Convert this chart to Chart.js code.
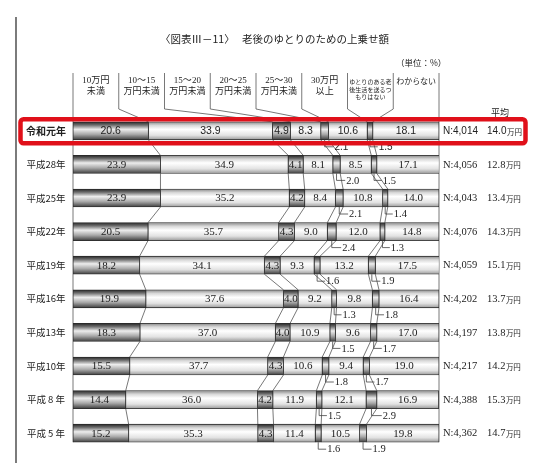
<!DOCTYPE html>
<html>
<head>
<meta charset="utf-8">
<script src="https://cdn.jsdelivr.net/npm/chart.js@4"></script>
<style>
  html, body { margin: 0; padding: 0; background: #fff; }
  #wrap { width: 550px; height: 469px; position: relative; }
</style>
</head>
<body>
<div id="wrap"><canvas id="myChart"></canvas></div>
<script>
//--------------------------------------------------
// data (unit: %)
const years = ["令和元年", "平成28年", "平成25年", "平成22年", "平成19年", "平成16年", "平成13年", "平成10年", "平成 8 年", "平成 5 年"];
const categories = [
  ["10万円", "未満"],
  ["10～15", "万円未満"],
  ["15～20", "万円未満"],
  ["20～25", "万円未満"],
  ["25～30", "万円未満"],
  ["30万円", "以上"],
  ["ゆとりのある老", "後生活を送るつ", "もりはない"],
  ["わからない"],
];
const under10 = [20.6, 23.9, 23.9, 20.5, 18.2, 19.9, 18.3, 15.5, 14.4, 15.2];
const from10to15 = [33.9, 34.9, 35.2, 35.7, 34.1, 37.6, 37.0, 37.7, 36.0, 35.3];
const from15to20 = [4.9, 4.1, 4.2, 4.3, 4.3, 4.0, 4.0, 4.3, 4.2, 4.3];
const from20to25 = [8.3, 8.1, 8.4, 9.0, 9.3, 9.2, 10.9, 10.6, 11.9, 11.4];
const from25to30 = [2.1, 2.0, 2.1, 2.4, 1.6, 1.3, 1.5, 1.8, 1.5, 1.6];
const over30 = [10.6, 8.5, 10.8, 12.0, 13.2, 9.8, 9.6, 9.4, 12.1, 10.5];
const noIntention = [1.5, 1.5, 1.4, 1.3, 1.9, 1.8, 1.7, 1.7, 2.9, 1.9];
const unknown = [18.1, 17.1, 14.0, 14.8, 17.5, 16.4, 17.0, 19.0, 16.9, 19.8];
const sampleN = ["4,014", "4,056", "4,043", "4,076", "4,059", "4,202", "4,197", "4,217", "4,388", "4,362"];
const averages = ["14.0", "12.8", "13.4", "14.3", "15.1", "13.7", "13.8", "14.2", "15.3", "14.7"];

const series = [under10, from10to15, from15to20, from20to25, from25to30, over30, noIntention, unknown];
const outsideLabels = [4, 6]; // thin segments labelled under the bar

const SERIF = '"Liberation Serif", "DejaVu Serif", "Noto Sans CJK JP", serif';
const SANS = '"Liberation Sans", "Noto Sans CJK JP", sans-serif';
const JP = '"Noto Sans CJK JP", sans-serif';
const BAR_H = 18;

function shade(c, dark) {
  const chart = c.chart;
  const yc = chart.scales.y ? chart.scales.y.getPixelForValue(c.dataIndex) : NaN;
  if (!isFinite(yc)) return dark ? "#888" : "#ddd";
  const g = chart.ctx.createLinearGradient(0, yc - BAR_H / 2, 0, yc + BAR_H / 2);
  if (dark) {
    g.addColorStop(0, "#262626");
    g.addColorStop(0.18, "#6e6e6e");
    g.addColorStop(0.42, "#ededed");
    g.addColorStop(0.7, "#a8a8a8");
    g.addColorStop(1, "#3e3e3e");
  } else {
    g.addColorStop(0, "#8a8a8a");
    g.addColorStop(0.2, "#d8d8d8");
    g.addColorStop(0.42, "#ffffff");
    g.addColorStop(0.75, "#e2e2e2");
    g.addColorStop(1, "#9a9a9a");
  }
  return g;
}

function line(ctx, pts) {
  ctx.beginPath();
  ctx.moveTo(pts[0][0], pts[0][1]);
  for (let i = 1; i < pts.length; i++) ctx.lineTo(pts[i][0], pts[i][1]);
  ctx.stroke();
}

const deco = {
  id: "deco",
  beforeDatasetsDraw(chart) {
    const ctx = chart.ctx;
    const a = chart.chartArea;
    const metas = series.map((s, k) => chart.getDatasetMeta(k).data);
    const first = metas[0][0];
    const last = metas[0][years.length - 1];
    const barTop0 = first.y - BAR_H / 2;
    const bottom = last.y + BAR_H / 2;
    ctx.save();
    // outer left rule
    ctx.strokeStyle = "#444";
    ctx.lineWidth = 1.4;
    line(ctx, [[16, 17], [16, 463]]);
    // header columns
    ctx.strokeStyle = "#555";
    ctx.lineWidth = 0.8;
    const colW = (a.right - a.left) / categories.length;
    const hTop = 73, hBot = 109;
    line(ctx, [[a.left, hTop], [a.left, bottom]]);
    line(ctx, [[a.right, hTop], [a.right, bottom]]);
    for (let j = 1; j < categories.length; j++) {
      const x = a.left + j * colW;
      line(ctx, [[x, hTop], [x, hBot], [metas[j - 1][0].x, barTop0]]);
    }
    // connectors between consecutive bars
    for (let k = 0; k < series.length - 1; k++) {
      for (let i = 0; i < years.length - 1; i++) {
        const p = metas[k][i], q = metas[k][i + 1];
        line(ctx, [[p.x, p.y + BAR_H / 2], [q.x, q.y - BAR_H / 2]]);
      }
    }
    ctx.restore();
  },
  afterDatasetsDraw(chart) {
    const ctx = chart.ctx;
    const a = chart.chartArea;
    const metas = series.map((s, k) => chart.getDatasetMeta(k).data);
    ctx.save();
    ctx.fillStyle = "#222";
    ctx.textBaseline = "middle";

    // title
    ctx.textAlign = "left";
    ctx.font = "10.5px " + JP;
    ctx.fillText("〈図表Ⅲ－11〉", 160, 39);
    ctx.fillText("老後のゆとりのための上乗せ額", 242, 39);
    ctx.font = "8.5px " + JP;
    ctx.fillText("（単位：%）", 396, 63);

    // header labels
    const colW = (a.right - a.left) / categories.length;
    ctx.textAlign = "center";
    categories.forEach((lab, j) => {
      const cx = a.left + (j + 0.5) * colW;
      if (lab.length === 3) {
        ctx.font = "6px " + JP;
        lab.forEach((t, r) => ctx.fillText(t, cx, 82 + r * 7.5));
      } else if (lab.length === 1) {
        ctx.font = "8px " + JP;
        ctx.fillText(lab[0], cx, 81);
      } else {
        ctx.font = "9px " + SERIF;
        lab.forEach((t, r) => ctx.fillText(t, cx, 81 + r * 10.5));
      }
    });

    // values inside / under bars
    years.forEach((yr, i) => {
      const isNew = i === 0;
      series.forEach((s, k) => {
        const el = metas[k][i];
        const mid = (el.base + el.x) / 2;
        if (outsideLabels.includes(k)) {
          const ty = el.y + BAR_H / 2 + 7;
          ctx.strokeStyle = "#444";
          ctx.lineWidth = 0.8;
          line(ctx, [[mid, el.y + BAR_H / 2], [mid, ty], [el.x + 5, ty]]);
          ctx.textAlign = "left";
          ctx.font = (isNew ? "10px " + SANS : "10.5px " + SERIF);
          ctx.fillText(s[i].toFixed(1), el.x + 6, ty + 0.5);
        } else {
          ctx.textAlign = "center";
          ctx.font = (isNew ? "10.5px " + SANS : "11px " + SERIF);
          ctx.fillText(s[i].toFixed(1), mid, el.y + 0.5);
        }
      });
      const y = metas[0][i].y;
      // row label
      ctx.textAlign = "center";
      ctx.font = isNew ? "bold 10px " + JP : "9.5px " + JP;
      ctx.fillText(yr, 46, y);
      // N and average
      ctx.textAlign = "left";
      ctx.font = isNew ? "10px " + SANS : "10.5px " + SERIF;
      ctx.fillText("N:" + sampleN[i], a.right + 4, y + 0.5);
      const ax = a.right + 48;
      ctx.fillText(averages[i], ax, y + 0.5);
      const w = ctx.measureText(averages[i]).width;
      ctx.font = "7.5px " + JP;
      ctx.fillText("万円", ax + w + 0.5, y + 1);
    });
    ctx.font = "9px " + JP;
    ctx.textAlign = "center";
    ctx.fillText("平均", 500, metas[0][0].y - 18);

    // highlight box around the latest year
    const y0 = metas[0][0].y;
    const bx = 20.5, by = y0 - 11.5, bw = 505, bh = 24, r = 3;
    ctx.strokeStyle = "#e0101a";
    ctx.lineWidth = 4.5;
    ctx.beginPath();
    ctx.moveTo(bx + r, by);
    ctx.arcTo(bx + bw, by, bx + bw, by + bh, r);
    ctx.arcTo(bx + bw, by + bh, bx, by + bh, r);
    ctx.arcTo(bx, by + bh, bx, by, r);
    ctx.arcTo(bx, by, bx + bw, by, r);
    ctx.closePath();
    ctx.stroke();
    ctx.restore();
  },
};

const ctx = document.getElementById("myChart");
const chart = new Chart(ctx, {
  type: "bar",
  data: {
    labels: years,
    datasets: series.map((s, k) => ({
      label: categories[k].join(""),
      data: s,
      backgroundColor: (c) => shade(c, k % 2 === 0),
      borderColor: "#2a2a2a",
      borderWidth: 0.8,
      borderSkipped: false,
      barThickness: BAR_H,
    })),
  },
  options: {
    indexAxis: "y",
    responsive: true,
    maintainAspectRatio: false,
    animation: false,
    layout: { padding: { left: 73, right: 111, top: 114, bottom: 19 } },
    plugins: { legend: { display: false }, tooltip: { enabled: false } },
    scales: {
      x: { stacked: true, min: 0, max: 100, display: false },
      y: { stacked: true, display: false, offset: true },
    },
  },
  plugins: [deco],
});
chart.update();
</script>
</body>
</html>
